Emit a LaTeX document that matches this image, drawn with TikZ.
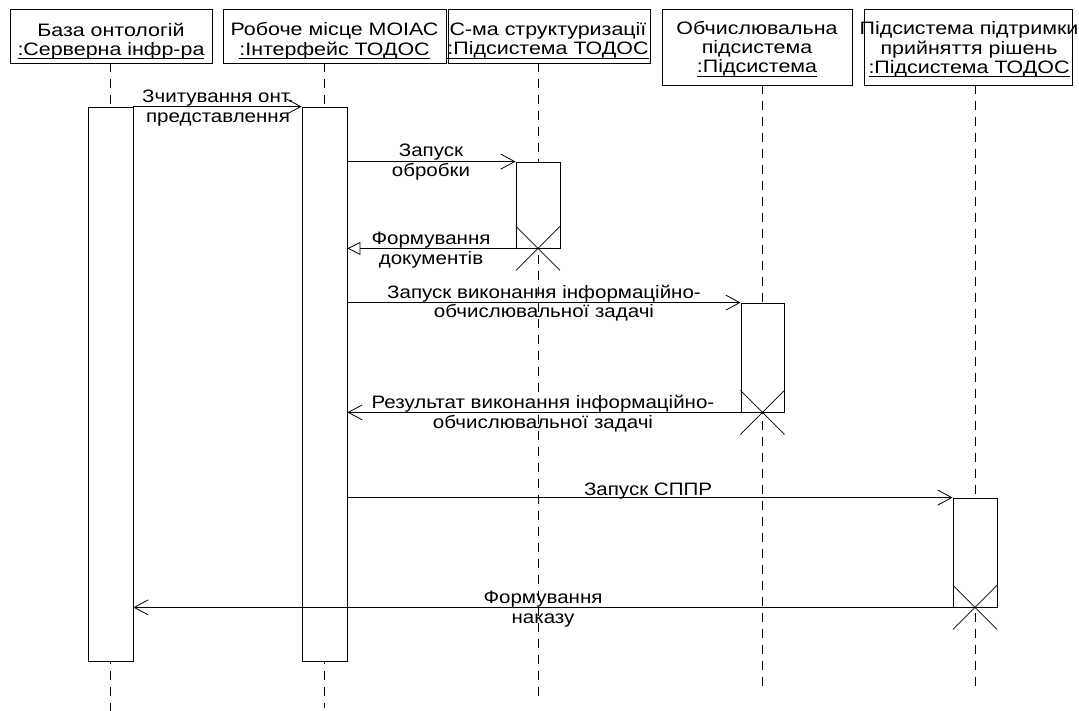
\documentclass[tikz,border=0pt]{standalone}
\usepackage{fontspec}
\setmainfont{Liberation Sans}[FakeStretch=1.19]
\newfontfamily\msgfont{Liberation Sans}[FakeStretch=1.14]
\usetikzlibrary{arrows.meta}
\newsavebox{\ulbox}
\newcommand{\myul}[1]{\sbox{\ulbox}{#1}\rlap{\rule[-3.5pt]{\wd\ulbox}{0.7pt}}\usebox{\ulbox}}
\tikzset{
  objbox/.style={draw, line width=0.8pt, fill=white, inner sep=0pt},
  objtxt/.style={align=center, inner sep=0pt, font=\fontsize{18}{19}\selectfont},
  msgtxt/.style={align=center, inner sep=0pt, font=\msgfont\fontsize{18}{20}\selectfont},
  lifeline/.style={line width=0.8pt, dash pattern=on 9pt off 7pt},
  actbar/.style={draw, fill=white, line width=0.8pt, inner sep=0pt},
  msg/.style={line width=0.8pt, -{Straight Barb[length=14pt,width=15pt]}},
  ret/.style={line width=0.8pt, -{Triangle[open,length=13pt,width=13pt]}},
  destroy/.style={line width=0.8pt}
}
\begin{document}
\begin{tikzpicture}[x=1pt,y=-1pt]
\useasboundingbox (0,0) rectangle (1079,711);
% object boxes
\node[objbox, minimum width=202pt, minimum height=54pt] (o1) at (111,36) {};
\node[objbox, minimum width=223pt, minimum height=54pt] (o2) at (334.5,36) {};
\node[objbox, minimum width=202pt, minimum height=54pt] (o3) at (549,36) {};
\node[objbox, minimum width=190pt, minimum height=76pt] (o4) at (757,47) {};
\node[objbox, minimum width=208pt, minimum height=76pt] (o5) at (968,47) {};
\node[objtxt] (t1) at (111,41.7) {\strut База онтологій\\\strut\myul{:Серверна інфр-ра}};
\node[objtxt] (t2) at (334.5,41.7) {\strut Робоче місце МОІАС\\\strut\myul{:Інтерфейс ТОДОС}};
\node[objtxt] (t3) at (548,41.7) {\strut С-ма структуризації\\\strut\myul{:Підсистема ТОДОС}};
\node[objtxt] (t4) at (757,50.2) {\strut Обчислювальна\\\strut підсистема\\\strut\myul{:Підсистема}};
\node[objtxt] (t5) at (969,50.2) {\strut Підсистема підтримки\\\strut прийняття рішень\\\strut\myul{:Підсистема ТОДОС}};
% lifeline ends
\coordinate (e1) at (110.5,711);
\coordinate (e2) at (324.5,708);
\coordinate (e3) at (538,697);
\coordinate (e4) at (762.5,688);
\coordinate (e5) at (975,688);
\draw[lifeline] (e1 |- o1.south) -- (e1);
\draw[lifeline] (e2 |- o2.south) -- (e2);
\draw[lifeline] (e3 |- o3.south) -- (e3);
\draw[lifeline] (e4 |- o4.south) -- (e4);
\draw[lifeline] (e5 |- o5.south) -- (e5);
% activation bars
\node[actbar, minimum width=45pt, minimum height=554pt] (a1) at (110.5,384) {};
\node[actbar, minimum width=45pt, minimum height=554pt] (a2) at (324.5,384) {};
\node[actbar, minimum width=44pt, minimum height=86pt] (a3) at (538,205) {};
\node[actbar, minimum width=43pt, minimum height=109pt] (a4) at (762.5,357.5) {};
\node[actbar, minimum width=44pt, minimum height=109pt] (a5) at (975,552.5) {};
% messages
\draw[msg] (a1.north east) -- (a2.north west);
\draw[msg] (a2.east |- a3.north) -- (a3.north west);
\draw[ret] (a3.south west) -- (a2.east |- a3.south);
\draw[msg] (a2.east |- a4.north) -- (a4.north west);
\draw[msg] (a4.south west) -- (a2.east |- a4.south);
\draw[msg] (a2.east |- a5.north) -- (a5.north west);
\draw[msg] (a5.south west) -- (a1.east |- a5.south);
% destruction marks
\draw[destroy] (a3.south) +(-22,-22) -- +(22,22) +(-22,22) -- +(22,-22);
\draw[destroy] (a4.south) +(-22,-22) -- +(22,22) +(-22,22) -- +(22,-22);
\draw[destroy] (a5.south) +(-22,-22) -- +(22,22) +(-22,22) -- +(22,-22);
% labels
\node[msgtxt] (l1) at (218,109) {\strut Зчитування онт.\\\strut представлення};
\node[msgtxt] (l2) at (431,163) {\strut Запуск\\\strut обробки};
\node[msgtxt] (l3) at (431,251) {\strut Формування\\\strut документів};
\node[msgtxt] (l4) at (544,304) {\strut Запуск виконання інформаційно-\\\strut обчислювальної задачі};
\node[msgtxt] (l5) at (543,414) {\strut Результат виконання інформаційно-\\\strut обчислювальної задачі};
\node[msgtxt] (l6) at (648,491) {\strut Запуск СППР};
\node[msgtxt] (l7) at (543,609) {\strut Формування\\\strut наказу};
\end{tikzpicture}
\end{document}
